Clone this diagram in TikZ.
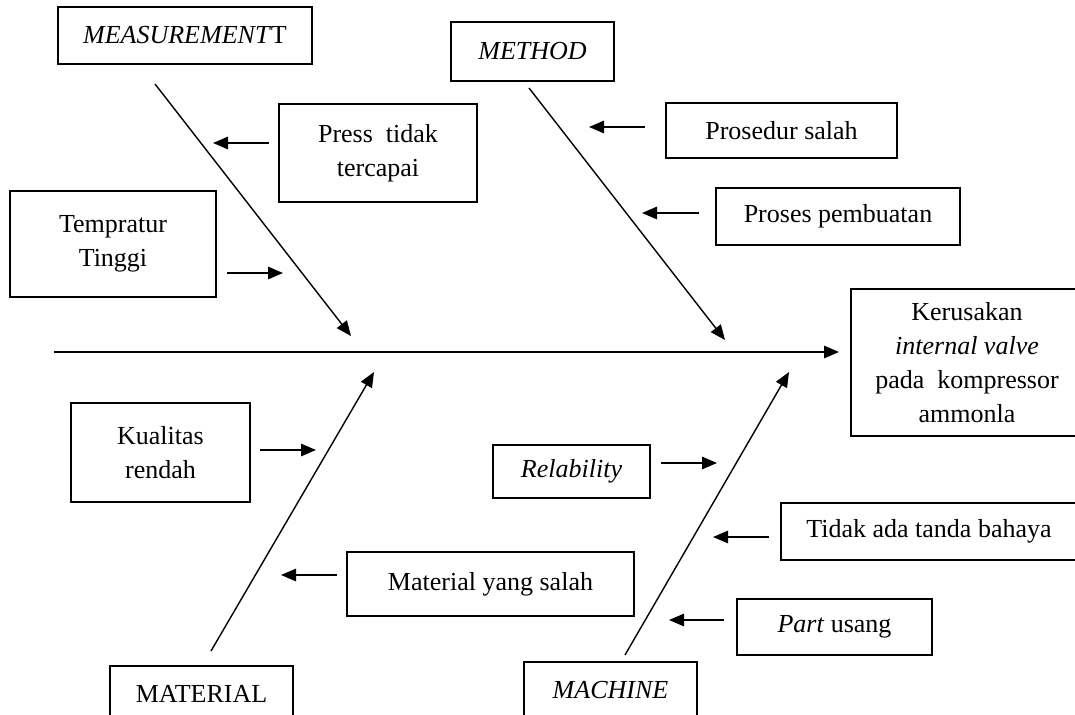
\documentclass[tikz,border=0pt]{standalone}
\usepackage{fontspec}
\setmainfont{Liberation Serif}
\usetikzlibrary{arrows.meta}

\begin{document}
\begin{tikzpicture}[x=1pt,y=1pt,yscale=-1,
  box/.style={draw, line width=1.4pt, align=center, inner sep=0pt,
    font=\fontsize{26}{34}\selectfont},
  arr/.style={line width=1.4pt, -{Triangle[length=15pt,width=12.5pt]}}]
\clip (0,0) rectangle (1075,714);

%Shape: Rectangle (main bones)
\node (meas) at (185,35.5) [box, minimum width=254, minimum height=57] {\textit{MEASUREMENT}T};
\node (method) at (532.5,51.5) [box, minimum width=163, minimum height=59] {\textit{METHOD}};
\node (material) at (201.5,694) [box, minimum width=183, minimum height=56] {MATERIAL};
\node (machine) at (610.5,690) [box, minimum width=173, minimum height=56] {\textit{MACHINE}};
%Shape: Rectangle (effect)
\node (effect) at (967,362.5) [box, minimum width=232, minimum height=147] {Kerusakan\\ \textit{internal valve}\\ pada\ \ kompressor\\ ammonla};
%Shape: Rectangle (causes)
\node (press) at (378,153) [box, minimum width=198, minimum height=98] {Press\ \ tidak\\ tercapai};
\node (temp) at (113,244) [box, minimum width=206, minimum height=106] {Tempratur\\ Tinggi};
\node (prosedur) at (781.5,130.5) [box, minimum width=231, minimum height=55] {Prosedur salah};
\node (proses) at (838,216.5) [box, minimum width=244, minimum height=57] {Proses pembuatan};
\node (kualitas) at (160.5,452.5) [box, minimum width=179, minimum height=99] {Kualitas\\ rendah};
\node (salah) at (490.5,584) [box, minimum width=287, minimum height=64] {Material yang salah};
\node (relab) at (571.5,471.5) [box, minimum width=157, minimum height=53] {\textit{Relability}};
\node (tanda) at (929,531.5) [box, minimum width=296, minimum height=57] {Tidak ada tanda bahaya};
\node (part) at (834.5,627) [box, minimum width=195, minimum height=56] {\textit{Part} usang};

%Straight Lines (spine and bones)
\coordinate (tail) at (54,352);
\coordinate (head) at (839,352);
\coordinate (measA) at (155,84);
\coordinate (measB) at (351,336);
\coordinate (methA) at (529,88);
\coordinate (methB) at (725,340);
\coordinate (matA) at (211,651);
\coordinate (matB) at (374,372);
\coordinate (machA) at (625,655);
\coordinate (machB) at (789,372);
\draw [arr] (tail) -- (head);
\draw [arr] (measA) -- (measB);
\draw [arr] (methA) -- (methB);
\draw [arr] (matA) -- (matB);
\draw [arr] (machA) -- (machB);

%Straight Lines (cause arrows)
\coordinate (pressA) at (269,143);   \coordinate (pressB) at (213,143);
\coordinate (tempA) at (227,273);    \coordinate (tempB) at (283,273);
\coordinate (prosedurA) at (645,127); \coordinate (prosedurB) at (589,127);
\coordinate (prosesA) at (699,213);  \coordinate (prosesB) at (642,213);
\coordinate (kualitasA) at (260,450); \coordinate (kualitasB) at (316,450);
\coordinate (salahA) at (337,575);   \coordinate (salahB) at (281,575);
\coordinate (relabA) at (661,463);   \coordinate (relabB) at (717,463);
\coordinate (tandaA) at (769,537);   \coordinate (tandaB) at (713,537);
\coordinate (partA) at (724,620);    \coordinate (partB) at (669,620);
\draw [arr] (pressA) -- (pressB);
\draw [arr] (tempA) -- (tempB);
\draw [arr] (prosedurA) -- (prosedurB);
\draw [arr] (prosesA) -- (prosesB);
\draw [arr] (kualitasA) -- (kualitasB);
\draw [arr] (salahA) -- (salahB);
\draw [arr] (relabA) -- (relabB);
\draw [arr] (tandaA) -- (tandaB);
\draw [arr] (partA) -- (partB);

\end{tikzpicture}
\end{document}
